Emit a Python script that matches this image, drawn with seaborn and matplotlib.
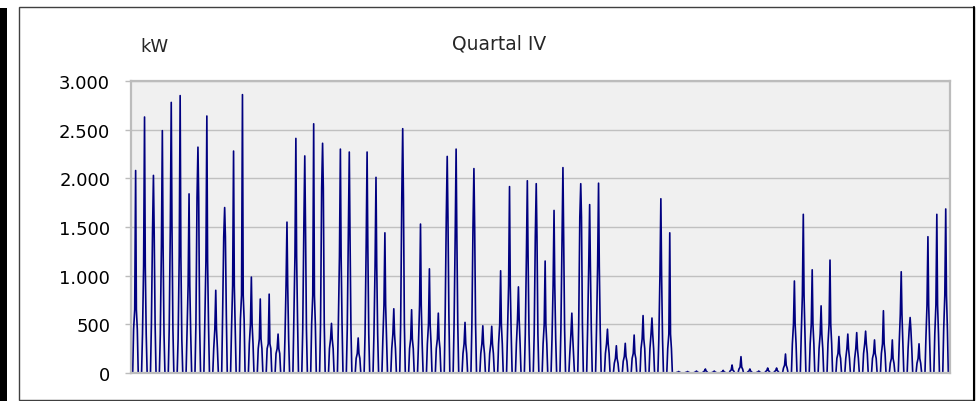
"""
Quartal IV - daily load profile (kW), recreated with seaborn.
"""

import matplotlib
matplotlib.use("Agg")

import matplotlib.pyplot as plt
import matplotlib.patches as patches
from matplotlib.ticker import FuncFormatter, MultipleLocator
import pandas as pd
import seaborn as sns

TITLE = "Quartal IV"
UNIT = "kW"

# Daily maximum (kW) for the 92 days of the quarter.
DAILY_PEAK = [
    2080, 2630, 2030, 2490, 2780, 2850, 1840, 2320, 2640, 850,
    1700, 2280, 2860, 985, 760, 810, 400, 1550, 2410, 2230,
    2560, 2360, 510, 2300, 2270, 360, 2270, 2010, 1440, 660,
    2510, 650, 1530, 1070, 615, 2225, 2300, 520, 2100, 485,
    480, 1050, 1915, 885, 1975, 1945, 1150, 1670, 2110, 615,
    1945, 1730, 1950, 450, 280, 305, 390, 590, 565, 1790,
    1440, 15, 15, 20, 41, 20, 27, 82, 168, 41,
    20, 51, 51, 195, 945, 1630, 1060, 690, 1160, 375,
    400, 415, 430, 340, 640, 340, 1040, 570, 300, 1400,
    1630, 1685,
]

# Secondary level around the peak (kW), estimated from the dark bands.
DAILY_SHOULDER = [
    650, 1100, 1440, 1300, 1500, 1200, 900, 1800, 1150, 450,
    1400, 900, 800, 500, 350, 300, 250, 900, 1200, 1500,
    800, 1900, 350, 1200, 1400, 200, 1300, 1100, 700, 400,
    1800, 350, 700, 500, 350, 1600, 1400, 300, 1500, 300,
    300, 500, 900, 550, 1200, 1400, 500, 900, 1400, 400,
    1600, 1100, 1100, 300, 150, 170, 200, 350, 400, 1000,
    400, 8, 8, 10, 20, 10, 12, 30, 60, 20,
    10, 25, 25, 80, 500, 800, 500, 400, 500, 200,
    250, 250, 300, 200, 300, 150, 600, 450, 150, 700,
    700, 800,
]

# Morning / evening level (kW) where each daily spike starts and ends.
DAILY_BASE = [
    450, 400, 500, 400, 450, 350, 400, 500, 500, 250,
    600, 450, 550, 300, 250, 250, 200, 350, 550, 450,
    500, 500, 250, 500, 450, 150, 400, 400, 350, 250,
    500, 250, 300, 300, 250, 600, 500, 200, 500, 200,
    200, 300, 400, 300, 400, 400, 300, 350, 450, 200,
    500, 450, 450, 200, 100, 120, 150, 250, 250, 350,
    250, 5, 5, 6, 12, 6, 8, 20, 40, 12,
    6, 15, 15, 50, 300, 400, 300, 250, 300, 150,
    150, 150, 200, 150, 200, 100, 300, 250, 100, 350,
    400, 450,
]

# Hours of the day at which the profile points sit.
HOURS = [0.0, 4.5, 7.0, 10.0, 12.5, 14.5, 17.0, 19.5]


def build_series() -> pd.DataFrame:
    """Turn the daily values into one continuous time series (x in days)."""
    rows = []
    days = zip(DAILY_PEAK, DAILY_SHOULDER, DAILY_BASE)
    for day, (peak, shoulder, base) in enumerate(days):
        values = [0, 0, base, shoulder, peak, shoulder, base, 0]
        for hour, value in zip(HOURS, values):
            rows.append((day + hour / 24.0, value))
    rows.append((len(DAILY_PEAK), 0))
    return pd.DataFrame(rows, columns=["day", "kW"])


def plot_quarter() -> None:
    sns.set_style("whitegrid", {
        "axes.facecolor": "#f0f0f0",
        "grid.color": "#c0c0c0",
        "axes.edgecolor": "#bcbcbc",
    })
    plt.rcParams["font.family"] = ["DejaVu Sans"]

    data = build_series()

    fig = plt.figure(figsize=(9.76, 4.02), dpi=100)
    ax = fig.add_axes([131 / 976, 1 - 374 / 402, 819 / 976, 292 / 402])

    sns.lineplot(
        data=data, x="day", y="kW", ax=ax,
        color="#000080", linewidth=1.2, estimator=None, sort=False,
    )

    ax.set_xlim(0, len(DAILY_PEAK))
    ax.set_ylim(0, 3000)
    ax.yaxis.set_major_locator(MultipleLocator(500))
    ax.yaxis.set_major_formatter(
        FuncFormatter(lambda v, pos: f"{v:,.0f}".replace(",", "."))
    )
    ax.grid(True, axis="y", linewidth=1.0)
    ax.grid(False, axis="x")
    ax.set_xticks([])
    ax.set_xlabel("")
    ax.set_ylabel("")
    ax.tick_params(axis="y", left=True, length=4, width=1, color="#bcbcbc",
                   pad=11, labelsize=13, labelcolor="black")
    for spine in ax.spines.values():
        spine.set_linewidth(1.6)
        spine.set_color("#bcbcbc")

    fig.text(499 / 976, 1 - 44 / 402, TITLE, ha="center", va="center",
             fontsize=13.5)
    fig.text(154 / 976, 1 - 47 / 402, UNIT, ha="center", va="center",
             fontsize=13)

    # Outer frame, left black bar and right edge line.
    fig.patches.append(patches.Rectangle(
        (19 / 976, 1 - 401 / 402), 955 / 976, 393 / 402,
        transform=fig.transFigure, fill=False, edgecolor="#404040",
        linewidth=1.0))
    fig.patches.append(patches.Rectangle(
        (0, 0), 7 / 976, 1 - 9 / 402,
        transform=fig.transFigure, facecolor="black", edgecolor="none"))
    fig.lines.append(plt.Line2D(
        [974 / 976, 974 / 976], [0, 1 - 8 / 402],
        transform=fig.transFigure, color="black", linewidth=1.5))

    fig.savefig("out.png", dpi=100)


if __name__ == "__main__":
    plot_quarter()
